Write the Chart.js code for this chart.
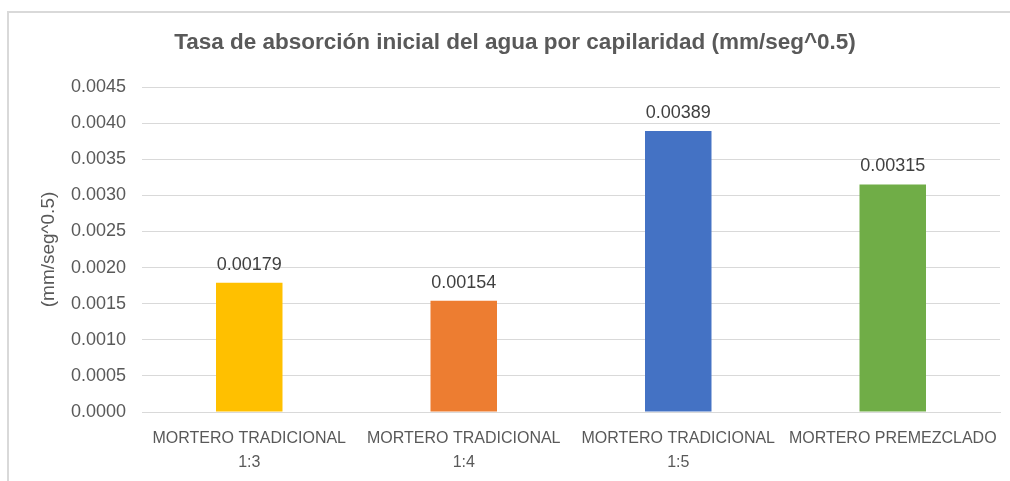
<!DOCTYPE html>
<html>
<head>
<meta charset="utf-8">
<script src="https://cdn.jsdelivr.net/npm/chart.js@4/dist/chart.umd.min.js"></script>
<style>
  html, body { margin: 0; padding: 0; background: #fff; overflow: hidden; }
  #frame { position: absolute; left: 7px; top: 11px; width: 1010px; height: 480px;
           border-left: 2px solid #d9d9d9; border-top: 2px solid #d9d9d9; }
  #chart { position: absolute; left: 0; top: 0; }
</style>
</head>
<body>
<div id="frame"></div>
<canvas id="chart" width="1010" height="481"></canvas>
<script>
const categories = [
  ['MORTERO TRADICIONAL', '1:3'],
  ['MORTERO TRADICIONAL', '1:4'],
  ['MORTERO TRADICIONAL', '1:5'],
  'MORTERO PREMEZCLADO'
];
const rates = [0.00179, 0.00154, 0.00389, 0.00315];
const rateLabels = ['0.00179', '0.00154', '0.00389', '0.00315'];
const barColors = ['#ffc000', '#ed7d31', '#4472c4', '#70ad47'];
const yTicks = [0, 0.0005, 0.001, 0.0015, 0.002, 0.0025, 0.003, 0.0035, 0.004, 0.0045];

const FONT = "'Liberation Sans', Arial, sans-serif";

// value labels above each bar
const valueLabels = {
  id: 'valueLabels',
  afterDatasetsDraw(chart) {
    const ctx = chart.ctx;
    const meta = chart.getDatasetMeta(0);
    ctx.save();
    ctx.font = '18px ' + FONT;
    ctx.fillStyle = '#404040';
    ctx.textAlign = 'center';
    ctx.textBaseline = 'bottom';
    meta.data.forEach((bar, i) => {
      ctx.fillText(rateLabels[i], bar.x, bar.y - 9);
    });
    ctx.restore();
  }
};

const chart = new Chart(document.getElementById('chart'), {
  type: 'bar',
  data: {
    labels: categories,
    datasets: [{
      data: rates,
      backgroundColor: barColors,
      barPercentage: 0.62,
      categoryPercentage: 0.5
    }]
  },
  options: {
    responsive: false,
    animation: false,
    layout: { padding: { left: 30, right: 10, top: 0, bottom: 0 } },
    plugins: {
      legend: { display: false },
      tooltip: { enabled: false },
      title: {
        display: true,
        text: 'Tasa de absorción inicial del agua por capilaridad (mm/seg^0.5)',
        color: '#595959',
        font: { family: FONT, size: 22.5, weight: 'bold' },
        padding: { top: 29, bottom: 31 }
      }
    },
    scales: {
      x: {
        grid: { display: false },
        border: { color: '#d9d9d9', width: 1 },
        ticks: {
          color: '#595959',
          font: { family: FONT, size: 16, lineHeight: 1.5 },
          maxRotation: 0,
          autoSkip: false,
          padding: 7
        },
        afterFit(scale) { scale.height = 69; }
      },
      y: {
        min: 0,
        max: 0.0045,
        afterBuildTicks(scale) { scale.ticks = yTicks.map(v => ({ value: v })); },
        grid: { color: '#d9d9d9', drawTicks: false },
        border: { display: false },
        ticks: {
          color: '#595959',
          font: { family: FONT, size: 18 },
          padding: 16,
          callback: v => v.toFixed(4)
        },
        title: {
          display: true,
          text: '(mm/seg^0.5)',
          color: '#595959',
          font: { family: FONT, size: 19 },
          padding: { top: 7, bottom: 4 }
        },
        afterFit(scale) { scale.width = 112; }
      }
    }
  },
  plugins: [valueLabels]
});
</script>
</body>
</html>
